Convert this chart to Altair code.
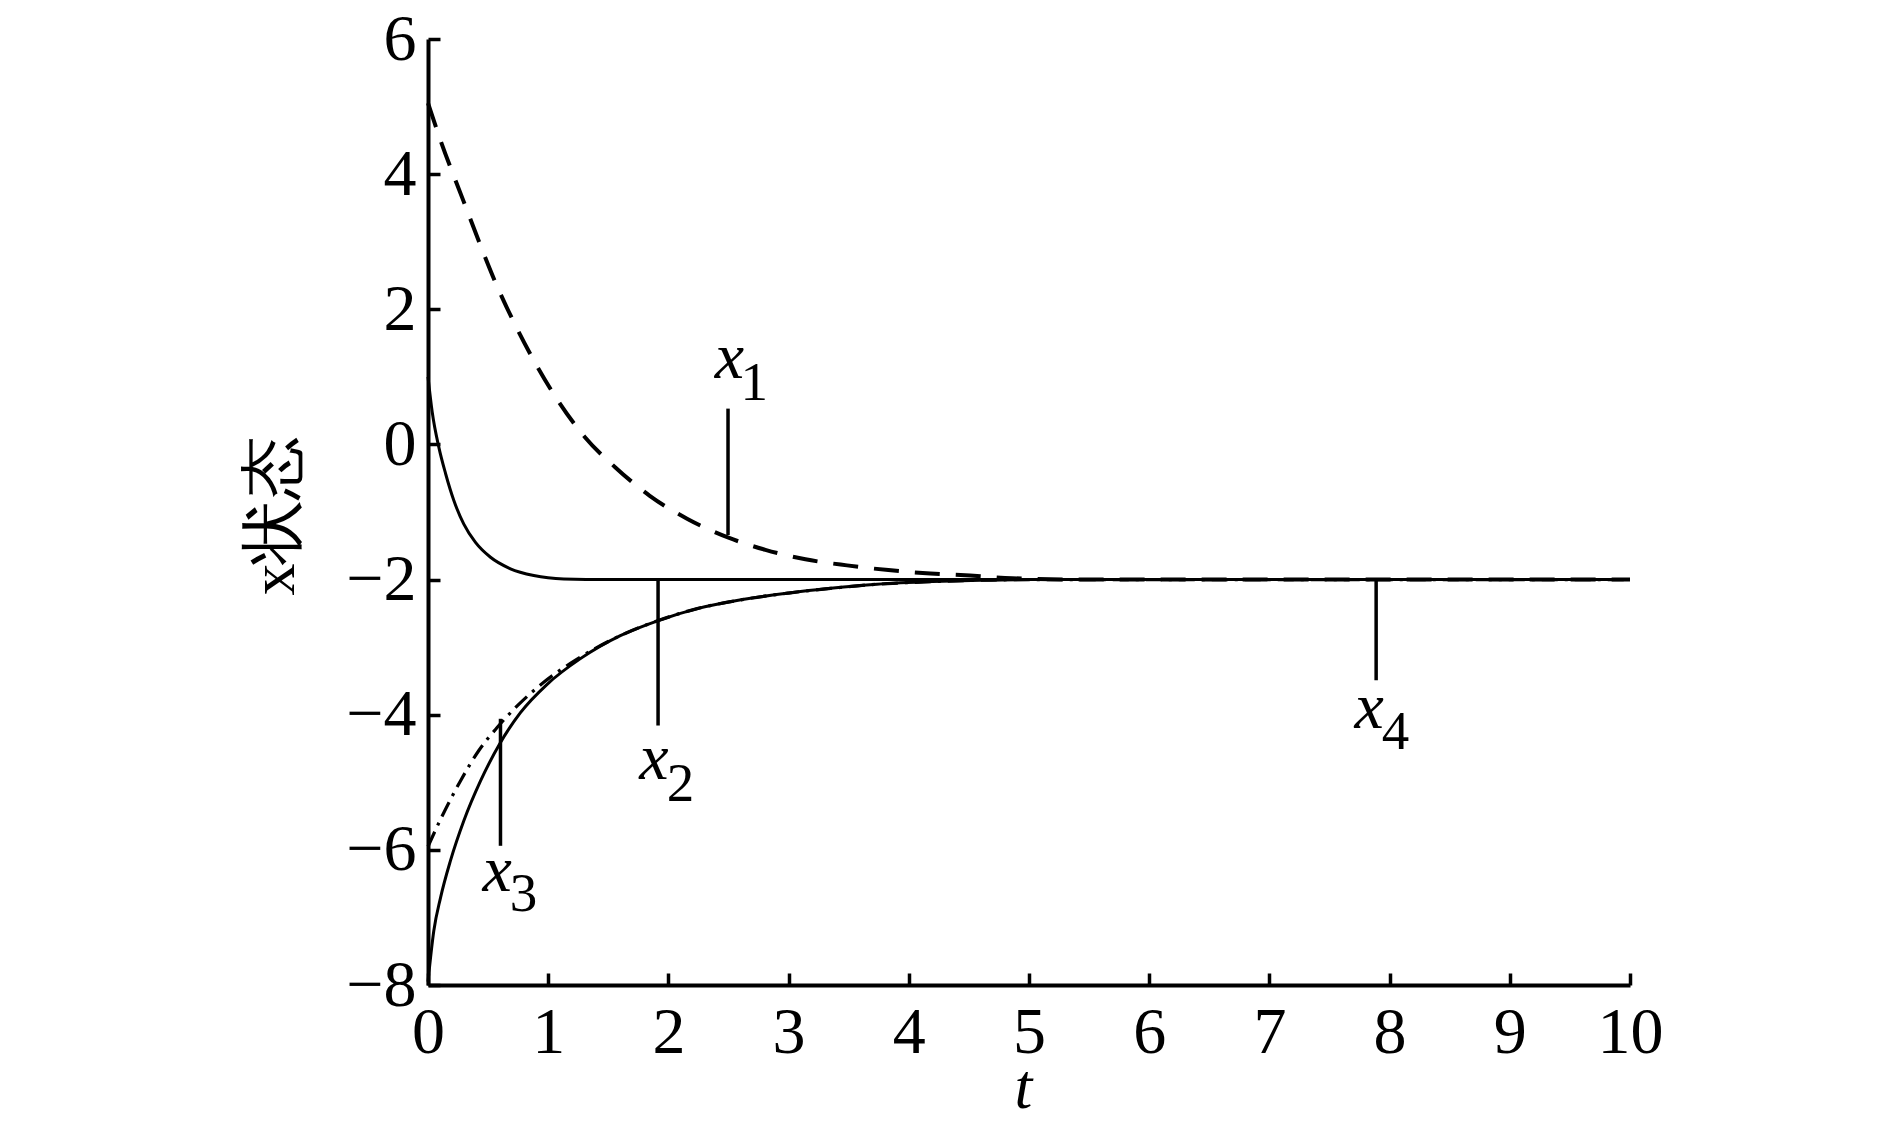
import altair as alt
import pandas as pd

# ---- data ----
# x1 (dashed)
x1_t = [0, 0.104, 0.298, 0.431, 0.57, 0.728, 0.894, 1.088, 1.304, 1.559, 1.845, 2.155,
        2.5, 2.807, 3.14, 3.486, 3.83, 4.18, 4.51, 4.86, 5.5, 6, 7, 8, 9, 10]
x1_v = [5.05, 4.50, 3.59, 2.97, 2.36, 1.76, 1.20, 0.63, 0.11, -0.34, -0.76, -1.10,
        -1.38, -1.56, -1.70, -1.79, -1.86, -1.91, -1.94, -1.98, -2.0, -2.0, -2.0, -2.0, -2.0, -2.0]

# x2 (solid, decaying from 1)
x2_t = [0, 0.035, 0.09, 0.146, 0.215, 0.298, 0.395, 0.52, 0.686, 0.88, 1.13, 1.5,
        2, 3, 4, 5, 6, 7, 8, 9, 10]
x2_v = [1.0, 0.48, -0.04, -0.43, -0.83, -1.18, -1.45, -1.67, -1.84, -1.94, -1.99, -2.0,
        -2.0, -2.0, -2.0, -2.0, -2.0, -2.0, -2.0, -2.0, -2.0]

# x3 (dash-dot, rising from -6)
x3_t = [0, 0.104, 0.27, 0.423, 0.575, 0.742, 0.963, 1.185, 1.4, 1.6, 1.91, 2.24, 2.57,
        3.0, 3.35, 3.735, 4.2, 4.6, 5, 6, 7, 8, 9, 10]
x3_v = [-5.95, -5.55, -4.98, -4.53, -4.19, -3.87, -3.52, -3.24, -3.01, -2.83, -2.61, -2.43,
        -2.31, -2.20, -2.13, -2.07, -2.03, -2.01, -2.0, -2.0, -2.0, -2.0, -2.0, -2.0]

# x4 (solid, rising from -8)
x4_t = [0, 0.048, 0.104, 0.187, 0.298, 0.437, 0.597, 0.769, 0.991, 1.268, 1.6, 1.91,
        2.24, 2.57, 3.0, 3.35, 3.735, 4.2, 4.6, 5, 6, 7, 8, 9, 10]
x4_v = [-7.95, -7.2, -6.71, -6.16, -5.57, -4.98, -4.43, -3.97, -3.55, -3.17, -2.83, -2.61,
        -2.43, -2.31, -2.20, -2.13, -2.07, -2.03, -2.01, -2.0, -2.0, -2.0, -2.0, -2.0, -2.0]

# annotations
label_x_text = ["x", "x", "x", "x"]
label_x_t = [2.507, 1.88, 0.575, 7.83]
label_x_v = [0.978, -4.95, -6.61, -4.19]
label_sub_text = ["1", "2", "3", "4"]
label_sub_t = [2.715, 2.10, 0.795, 8.05]
label_sub_v = [0.652, -5.27, -6.90, -4.50]
pointer_t = [2.496, 1.914, 0.603, 7.888]
pointer_top = [0.53, -2.0, -4.06, -2.0]
pointer_bottom = [-1.34, -4.16, -5.94, -3.49]

x_ticks = list(range(0, 11))
y_ticks = list(range(-8, 7, 2))

FONT = "Liberation Serif"

xscale = alt.Scale(domain=[0, 10], nice=False, zero=False)
yscale = alt.Scale(domain=[-8, 6], nice=False, zero=False)

x_main = alt.Axis(values=x_ticks, ticks=False, domainWidth=4, domainColor="black",
                  labelFont=FONT, labelFontSize=66, labelPadding=15, labelColor="black",
                  labelFlush=False, labelOverlap=False, grid=False,
                  title="t", titleFont=FONT, titleFontStyle="italic", titleFontWeight="normal",
                  titleFontSize=64, titleColor="black", titleX=595, titleY=122,
                  titleBaseline="alphabetic")
y_main = alt.Axis(values=y_ticks, ticks=False, domainWidth=4, domainColor="black",
                  labelFont=FONT, labelFontSize=66, labelPadding=12, labelColor="black",
                  labelBaseline="middle", labelFlush=False, labelOverlap=False, grid=False,
                  title="x状态", titleFont=FONT, titleFontWeight="normal", titleFontSize=64,
                  titleColor="black", titleX=-154, titleY=476, titleBaseline="middle",
                  titleAngle=270)
x_tk = alt.Axis(orient="bottom", offset=-12, values=x_ticks, domain=False, labels=False,
                ticks=True, tickSize=12, tickWidth=3.5, tickColor="black", grid=False, title=None)
y_tk = alt.Axis(orient="left", offset=-12, values=y_ticks, domain=False, labels=False,
                ticks=True, tickSize=12, tickWidth=3.5, tickColor="black", grid=False, title=None)


def line(t, v, xaxis, yaxis, **kw):
    df = pd.DataFrame({"t": t, "v": v})
    return alt.Chart(df).mark_line(color="black", interpolate="monotone", **kw).encode(
        x=alt.X("t:Q", scale=xscale, axis=xaxis),
        y=alt.Y("v:Q", scale=yscale, axis=yaxis),
    )


l1 = line(x1_t, x1_v, x_main, y_main, strokeWidth=4, strokeDash=[25, 16])
l2 = line(x2_t, x2_v, x_tk, y_tk, strokeWidth=3)
l3 = line(x3_t, x3_v, None, None, strokeWidth=3.2, strokeDash=[16, 7, 3, 7])
l4 = line(x4_t, x4_v, None, None, strokeWidth=3)

ptr_df = pd.DataFrame({"t": pointer_t, "a": pointer_top, "b": pointer_bottom})
ptr = alt.Chart(ptr_df).mark_rule(color="black", strokeWidth=3.5).encode(
    x=alt.X("t:Q", scale=xscale, axis=None),
    y=alt.Y("a:Q", scale=yscale, axis=None),
    y2="b:Q",
)

lx_df = pd.DataFrame({"t": label_x_t, "v": label_x_v, "txt": label_x_text})
lx = alt.Chart(lx_df).mark_text(font=FONT, fontStyle="italic", fontSize=66, align="center",
                                baseline="alphabetic", color="black").encode(
    x=alt.X("t:Q", scale=xscale, axis=None),
    y=alt.Y("v:Q", scale=yscale, axis=None),
    text="txt:N",
)
ls_df = pd.DataFrame({"t": label_sub_t, "v": label_sub_v, "txt": label_sub_text})
ls = alt.Chart(ls_df).mark_text(font=FONT, fontSize=55, align="center",
                                baseline="alphabetic", color="black").encode(
    x=alt.X("t:Q", scale=xscale, axis=None),
    y=alt.Y("v:Q", scale=yscale, axis=None),
    text="txt:N",
)

chart = alt.layer(l1, l2, l3, l4, ptr, lx, ls).resolve_axis(
    x="independent", y="independent"
).properties(
    width=1202, height=946,
    autosize=alt.AutoSizeParams(type="none"),
    padding={"left": 420, "top": 31, "right": 200, "bottom": 138},
    background="white",
).configure_view(stroke=None)

chart.save("out.html", embed_options={"renderer": "svg", "actions": False})
